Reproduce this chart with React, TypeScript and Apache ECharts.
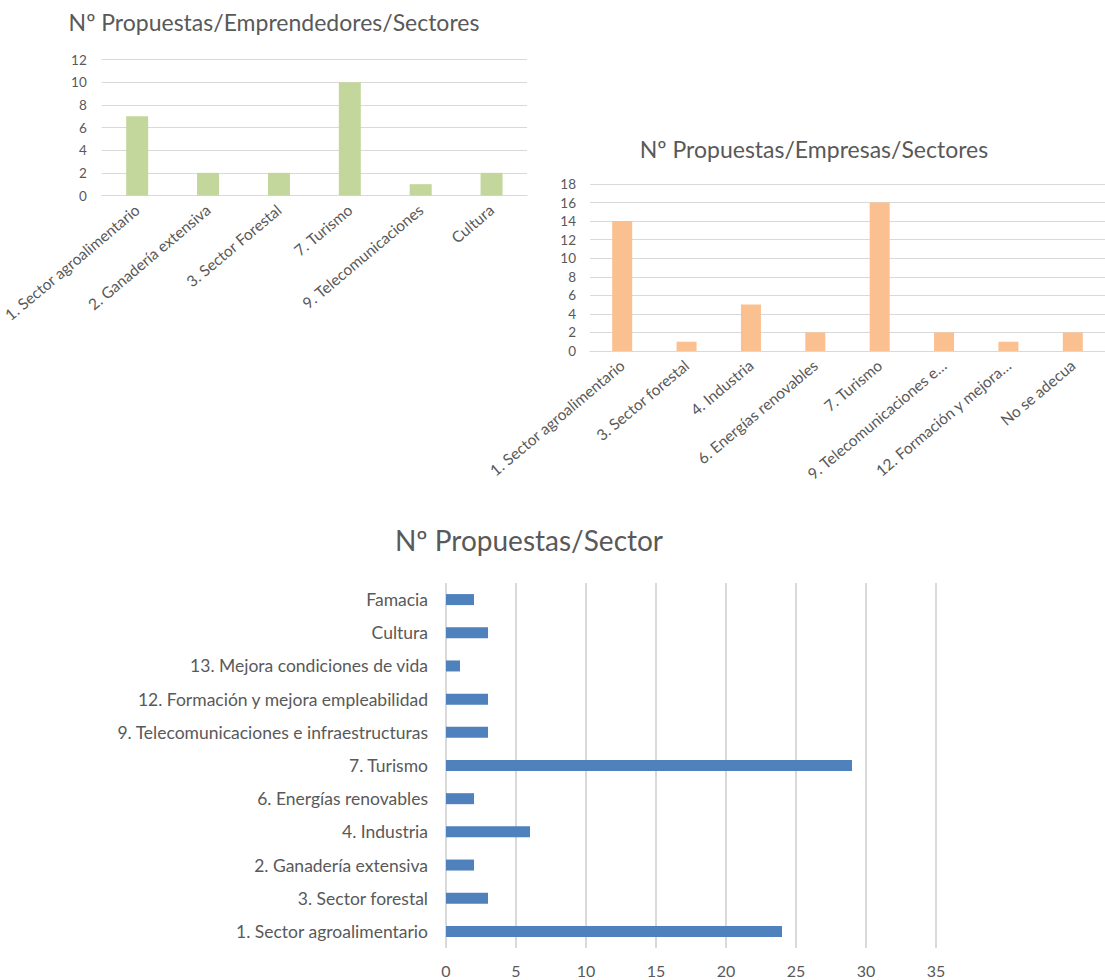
import React, { useEffect, useRef } from "react";
import * as echarts from "echarts";

const title1 = "Nº Propuestas/Emprendedores/Sectores";
const cats1 = [
  "1. Sector agroalimentario",
  "2. Ganadería extensiva",
  "3. Sector Forestal",
  "7. Turismo",
  "9. Telecomunicaciones",
  "Cultura",
];
const vals1 = [7, 2, 2, 10, 1, 2];

const title2 = "Nº Propuestas/Empresas/Sectores";
const cats2 = [
  "1. Sector agroalimentario",
  "3. Sector forestal",
  "4. Industria",
  "6. Energías renovables",
  "7. Turismo",
  "9. Telecomunicaciones e…",
  "12. Formación y mejora…",
  "No se adecua",
];
const vals2 = [14, 1, 5, 2, 16, 2, 1, 2];

const title3 = "Nº Propuestas/Sector";
const cats3 = [
  "1. Sector agroalimentario",
  "3. Sector forestal",
  "2. Ganadería extensiva",
  "4. Industria",
  "6. Energías renovables",
  "7. Turismo",
  "9. Telecomunicaciones e infraestructuras",
  "12. Formación y mejora empleabilidad",
  "13. Mejora condiciones de vida",
  "Cultura",
  "Famacia",
];
const vals3 = [24, 3, 2, 6, 2, 29, 3, 3, 1, 3, 2];

const FONT = "Lato";
const TXT = "#595959";
const GRID = "#d9d9d9";

export default function App() {
  const ref = useRef<HTMLDivElement>(null);
  useEffect(() => {
    if (!ref.current) return;
    const chart = echarts.init(ref.current, undefined, { renderer: "svg" });
    const rotLabel = { color: TXT, fontFamily: FONT, fontSize: 15.5, rotate: 40, interval: 0, margin: 12 };
    const yLabel = { color: TXT, fontFamily: FONT, fontSize: 13.5 };
    chart.setOption({
      animation: false,
      textStyle: { fontFamily: FONT },
      graphic: [
        {
          type: "text",
          x: 274,
          y: 22,
          style: { text: title1, fill: TXT, font: `23px ${FONT}`, textAlign: "center", textVerticalAlign: "middle" },
        },
        {
          type: "text",
          x: 814,
          y: 149,
          style: { text: title2, fill: TXT, font: `23px ${FONT}`, textAlign: "center", textVerticalAlign: "middle" },
        },
        {
          type: "text",
          x: 529,
          y: 540,
          style: { text: title3, fill: TXT, font: `28px ${FONT}`, textAlign: "center", textVerticalAlign: "middle" },
        },
      ],
      grid: [
        { left: 93, top: 59.5, width: 434, height: 136 },
        { left: 590, top: 184, width: 525, height: 167 },
        { left: 446, top: 583, width: 490, height: 365 },
      ],
      xAxis: [
        {
          gridIndex: 0,
          type: "category",
          data: cats1,
          axisLine: { lineStyle: { color: GRID, width: 1 } },
          axisTick: { show: false },
          axisLabel: rotLabel,
        },
        {
          gridIndex: 1,
          type: "category",
          data: cats2,
          axisLine: { lineStyle: { color: GRID, width: 1 } },
          axisTick: { show: false },
          axisLabel: rotLabel,
        },
        {
          gridIndex: 2,
          type: "value",
          min: 0,
          max: 35,
          interval: 5,
          axisLine: { show: false },
          axisTick: { show: false },
          splitLine: { lineStyle: { color: GRID, width: 2 } },
          axisLabel: { color: TXT, fontFamily: FONT, fontSize: 16, margin: 14 },
        },
      ],
      yAxis: [
        {
          gridIndex: 0,
          type: "value",
          min: 0,
          max: 12,
          interval: 2,
          axisLine: { show: false },
          axisTick: { show: false },
          splitLine: { lineStyle: { color: GRID, width: 1 } },
          axisLabel: { ...yLabel, margin: 15 },
        },
        {
          gridIndex: 1,
          type: "value",
          min: 0,
          max: 18,
          interval: 2,
          axisLine: { show: false },
          axisTick: { show: false },
          splitLine: { lineStyle: { color: GRID, width: 1 } },
          axisLabel: { ...yLabel, margin: 14 },
        },
        {
          gridIndex: 2,
          type: "category",
          data: cats3,
          axisLine: { show: false },
          axisTick: { show: false },
          axisLabel: { color: TXT, fontFamily: FONT, fontSize: 17.5, margin: 18, interval: 0 },
        },
      ],
      series: [
        {
          type: "bar",
          xAxisIndex: 0,
          yAxisIndex: 0,
          data: vals1,
          barWidth: 22,
          itemStyle: { color: "#c3d69b" },
        },
        {
          type: "bar",
          xAxisIndex: 1,
          yAxisIndex: 1,
          data: vals2,
          barWidth: 20,
          itemStyle: { color: "#fac090" },
        },
        {
          type: "bar",
          xAxisIndex: 2,
          yAxisIndex: 2,
          data: vals3,
          barWidth: 11,
          itemStyle: { color: "#4f81bd" },
        },
      ],
    });
    return () => chart.dispose();
  }, []);
  return (
    <div
      ref={ref}
      style={{ position: "absolute", left: 0, top: 0, width: 1105, height: 980, background: "#fff" }}
    />
  );
}
